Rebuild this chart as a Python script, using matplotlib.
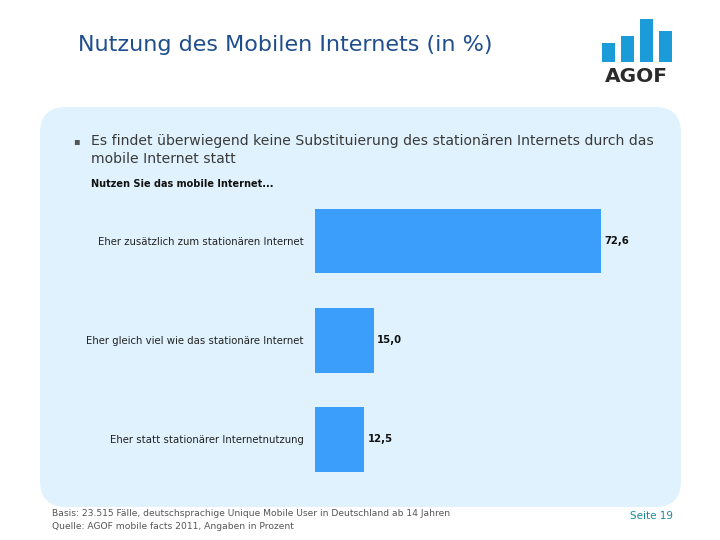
import matplotlib.pyplot as plt
from matplotlib.patches import FancyBboxPatch, Rectangle

categories = [
    "Eher zusätzlich zum stationären Internet",
    "Eher gleich viel wie das stationäre Internet",
    "Eher statt stationärer Internetnutzung",
]
values = [72.6, 15.0, 12.5]
value_labels = ["72,6", "15,0", "12,5"]

title = "Nutzung des Mobilen Internets (in %)"
bullet = "Es findet überwiegend keine Substituierung des stationären Internets durch das\nmobile Internet statt"
question = "Nutzen Sie das mobile Internet..."
footnote = "Basis: 23.515 Fälle, deutschsprachige Unique Mobile User in Deutschland ab 14 Jahren\nQuelle: AGOF mobile facts 2011, Angaben in Prozent"
page = "Seite 19"

fig = plt.figure(figsize=(7.2, 5.4), dpi=100)
fig.patch.set_facecolor("white")

# Hintergrund-Achse in Pixelkoordinaten (0..720, 0..540 von oben)
bg = fig.add_axes([0, 0, 1, 1], zorder=0)
bg.set_xlim(0, 720)
bg.set_ylim(540, 0)
bg.axis("off")

bg.add_patch(FancyBboxPatch((40, 107), 641, 400,
                            boxstyle="round,pad=0,rounding_size=26",
                            facecolor="#dff2fd", edgecolor="none"))

# Logo
logo_x = [602, 621, 640, 659]
logo_top = [43, 36, 19, 31]
for lx, lt in zip(logo_x, logo_top):
    bg.add_patch(Rectangle((lx, lt), 13, 62 - lt, facecolor="#1b9bd7",
                           edgecolor="none"))
bg.text(636.5, 77, "AGOF", ha="center", va="center", fontsize=14.5,
        fontweight="bold", color="#2b2b2b")

bg.text(78, 45, title, ha="left", va="center", fontsize=16, color="#1f4e8c")
bg.text(73, 141, "▪", ha="left", va="center", fontsize=7, color="#555555")
bg.text(91, 150, bullet, ha="left", va="center", fontsize=10.1,
        color="#3a3a3a", linespacing=1.45)
bg.text(91, 184, question, ha="left", va="center", fontsize=7,
        fontweight="bold", color="#111111")

bg.text(52, 520, footnote, ha="left", va="center", fontsize=6.55,
        color="#555555", linespacing=1.5)
bg.text(673, 516, page, ha="right", va="center", fontsize=7.5,
        color="#1a8a9a")

# Balken
ax = fig.add_axes([315 / 720, 1 - 489 / 540, 394 / 720, (489 - 191.5) / 540],
                  zorder=2)
ax.set_facecolor("none")
ypos = list(range(len(values)))
ax.barh(ypos, values, height=0.653, color="#3a9efa")
ax.set_xlim(0, 100)
ax.set_ylim(2.5, -0.5)
for y, v, lab in zip(ypos, values, value_labels):
    ax.text(v + 0.8, y, lab, ha="left", va="center", fontsize=7.3,
            fontweight="bold", color="#111111")
ax.set_yticks(ypos)
ax.set_yticklabels(categories, fontsize=7.25, color="#222222")
ax.tick_params(axis="y", length=0, pad=8)
ax.set_xticks([])
for s in ax.spines.values():
    s.set_visible(False)

fig.savefig("out.png", dpi=100)
